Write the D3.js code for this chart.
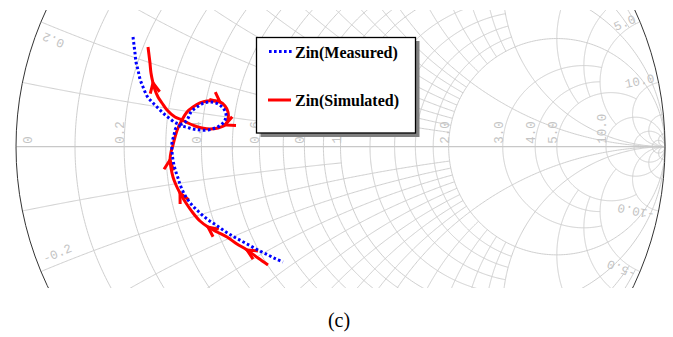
<!DOCTYPE html>
<html><head><meta charset="utf-8">
<script src="https://cdn.jsdelivr.net/npm/d3@7"></script>
<style>body{margin:0;background:#fff}svg{display:block}</style>
</head><body><svg id="c" width="673" height="337"></svg>
<script>
// ---- data: reflection coefficient (real, imag) of Zin ----
const measuredRe = [-0.6394,-0.6364,-0.6333,-0.6302,-0.6240,-0.6179,-0.6086,-0.5963,-0.5809,-0.5655,-0.5470,-0.5285,-0.5069,-0.4884,-0.4730,-0.4607,-0.4422,-0.4206,-0.3991,-0.3775,-0.3621,-0.3529,-0.3559,-0.3683,-0.3867,-0.4083,-0.4330,-0.4545,-0.4761,-0.4946,-0.5069,-0.5131,-0.5193,-0.5193,-0.5162,-0.5100,-0.5008,-0.4915,-0.4761,-0.4576,-0.4361,-0.4114,-0.3837,-0.3529,-0.3220,-0.2881,-0.2542,-0.2234,-0.1988,-0.1772];
const measuredIm = [0.3381,0.3134,0.2888,0.2610,0.2364,0.2086,0.1840,0.1562,0.1378,0.1223,0.1039,0.0884,0.0730,0.0700,0.0823,0.1069,0.1223,0.1347,0.1378,0.1316,0.1193,0.1008,0.0823,0.0669,0.0576,0.0515,0.0515,0.0545,0.0607,0.0638,0.0576,0.0361,0.0114,-0.0133,-0.0410,-0.0687,-0.0965,-0.1242,-0.1550,-0.1797,-0.2012,-0.2228,-0.2413,-0.2629,-0.2814,-0.2998,-0.3183,-0.3337,-0.3461,-0.3553];
const simulatedRe = [-0.2234,-0.2542,-0.2881,-0.3190,-0.3498,-0.3806,-0.4083,-0.4330,-0.4545,-0.4761,-0.4946,-0.5069,-0.5162,-0.5223,-0.5254,-0.5223,-0.5162,-0.5100,-0.5008,-0.4884,-0.4730,-0.4545,-0.4330,-0.4114,-0.3898,-0.3713,-0.3559,-0.3467,-0.3467,-0.3559,-0.3775,-0.4022,-0.4268,-0.4484,-0.4700,-0.4884,-0.5100,-0.5347,-0.5501,-0.5624,-0.5716,-0.5778,-0.5840,-0.5871,-0.5901,-0.5932];
const simulatedIm = [-0.3646,-0.3430,-0.3183,-0.2998,-0.2783,-0.2629,-0.2475,-0.2290,-0.2043,-0.1735,-0.1427,-0.1180,-0.0934,-0.0656,-0.0410,-0.0163,0.0052,0.0299,0.0576,0.0823,0.1069,0.1223,0.1347,0.1408,0.1408,0.1378,0.1254,0.1069,0.0854,0.0669,0.0576,0.0545,0.0576,0.0638,0.0730,0.0823,0.0915,0.1131,0.1347,0.1532,0.1747,0.1963,0.2271,0.2579,0.2826,0.3072];
const simulatedArrowAt = [2, 6, 10, 14, 25, 29, 41];
const seriesNames = ["Zin(Measured)", "Zin(Simulated)"];
const realAxisLabels = [0, 0.2, 0.4, 0.6, 0.8, 1.0, 2.0, 3.0, 4.0, 5.0, 10.0];
const rimLabels = [0.2, 5.0, 10.0, -10.0, -5.0, -0.2];
const caption = "(c)";

// ---- grid definition (value, limit of the other coordinate) ----
const rGrid = [[0.1,2],[0.2,5],[0.3,2],[0.4,2],[0.5,5],[0.6,2],[0.7,2],[0.8,2],[0.9,2],[1.0,1e9],
  [1.2,2],[1.4,2],[1.6,2],[1.8,2],[2.0,1e9],[3,5],[4,5],[5,10],[10,1e9],[20,1e9],[50,1e9]];
const xGrid = [[0.1,1],[0.2,2],[0.3,2],[0.4,2],[0.5,2],[0.6,2],[0.7,2],[0.8,2],[0.9,2],[1.0,1e9],
  [1.2,2],[1.4,2],[1.6,2],[1.8,2],[2.0,1e9],[3,5],[4,5],[5,10],[10,1e9],[20,1e9],[50,1e9]];

const W = 673, H = 337, cx = 340.5, cy = 146.7, R = 324.5;
const svg = d3.select("#c");
const gx = d3.scaleLinear().domain([-1, 1]).range([cx - R, cx + R]);
const gy = d3.scaleLinear().domain([-1, 1]).range([cy + R, cy - R]);

function gamma(r, x) {
  const d = (r + 1) * (r + 1) + x * x;
  return [(r * r - 1 + x * x) / d, 2 * x / d];
}
const line = d3.line().x(d => gx(d[0])).y(d => gy(d[1]));

svg.append("defs").append("clipPath").attr("id", "clip")
  .append("rect").attr("x", 0).attr("y", 10).attr("width", W).attr("height", 278);

const chart = svg.append("g").attr("clip-path", "url(#clip)");
const grid = chart.append("g").attr("fill", "none").attr("stroke", "#cfcfcf").attr("stroke-width", 1);

// resistance circles
rGrid.forEach(([r, xm]) => {
  const a = r + 1, pm = Math.atan(xm / a), pts = [];
  for (let i = 0; i <= 400; i++) {
    const p = -pm + 2 * pm * i / 400;
    pts.push(gamma(r, a * Math.tan(p)));
  }
  grid.append("path").attr("d", line(pts));
});
// reactance arcs
xGrid.forEach(([xv, rm]) => {
  [1, -1].forEach(s => {
    const x = s * xv, p0 = Math.atan(xv / (rm + 1)), p1 = Math.atan(xv), pts = [];
    for (let i = 0; i <= 300; i++) {
      const p = p0 + (p1 - p0) * i / 300;
      pts.push(gamma(xv / Math.tan(p) - 1, x));
    }
    grid.append("path").attr("d", line(pts));
  });
});
// real axis
chart.append("line").attr("x1", gx(-1)).attr("x2", gx(1)).attr("y1", gy(0)).attr("y2", gy(0))
  .attr("stroke", "#c8c8c8").attr("stroke-width", 1.2);
// outer circle
chart.append("circle").attr("cx", gx(0)).attr("cy", gy(0)).attr("r", gx(1) - gx(0))
  .attr("fill", "none").attr("stroke", "#333").attr("stroke-width", 1);

// labels
const lab = svg.append("g").attr("fill", "#c4c4c4").attr("font-family", "Liberation Mono, monospace").attr("font-size", 12.5);
realAxisLabels.forEach(r => {
  let px = gx((r - 1) / (r + 1));
  if (r === 0) px += 16;
  lab.append("text").attr("transform", `translate(${px},${gy(0) - 3}) rotate(-90)`)
    .attr("text-anchor", "start").text(r === 0 ? "0" : r.toFixed(1));
});
rimLabels.forEach(x => {
  const g = gamma(0, x), phi = Math.atan2(g[1], g[0]);
  const deg = phi * 180 / Math.PI;
  const left = Math.abs(deg) > 90;
  const rr = left ? 0.978 : 0.99;
  const px = gx(g[0] * rr), py = gy(g[1] * rr);
  if (x > 0) {
    lab.append("text").attr("transform", `translate(${px},${py}) rotate(${-deg})`)
      .attr("text-anchor", "end").attr("dy", left ? -8 : -1).text(x.toFixed(1));
  } else {
    lab.append("text").attr("transform", `translate(${px},${py}) rotate(${180 - deg})`)
      .attr("text-anchor", "start").attr("dy", left ? -6.5 : -1).text(x.toFixed(1));
  }
});

// series
const meas = measuredRe.map((v, i) => [v, measuredIm[i]]);
const sim = simulatedRe.map((v, i) => [v, simulatedIm[i]]);
const curve = d3.line().x(d => gx(d[0])).y(d => gy(d[1])).curve(d3.curveCatmullRom);
svg.append("path").attr("d", curve(sim)).attr("fill", "none").attr("stroke", "#ff0000")
  .attr("stroke-width", 3).attr("stroke-linejoin", "round");
// arrowheads
simulatedArrowAt.forEach(i => {
  const p = sim[i], q = sim[i + 1];
  const x0 = gx(p[0]), y0 = gy(p[1]), x1 = gx(q[0]), y1 = gy(q[1]);
  const ang = Math.atan2(y1 - y0, x1 - x0);
  const L = 11, sp = 0.45;
  const b1 = [x0 - L * Math.cos(ang - sp), y0 - L * Math.sin(ang - sp)];
  const b2 = [x0 - L * Math.cos(ang + sp), y0 - L * Math.sin(ang + sp)];
  svg.append("path").attr("d", `M${b1}L${x0},${y0}L${b2}`).attr("fill", "none")
    .attr("stroke", "#ff0000").attr("stroke-width", 3).attr("stroke-linejoin", "miter");
});
svg.append("path").attr("d", curve(meas)).attr("fill", "none").attr("stroke", "#0000ff")
  .attr("stroke-width", 3).attr("stroke-dasharray", "2.6,2.4");

// legend
const lg = svg.append("g");
lg.append("rect").attr("x", 260.5).attr("y", 41).attr("width", 159).attr("height", 96).attr("fill", "#808080");
lg.append("rect").attr("x", 256.5).attr("y", 37.5).attr("width", 159).attr("height", 95.5)
  .attr("fill", "#fff").attr("stroke", "#000").attr("stroke-width", 1.3);
lg.append("line").attr("x1", 269).attr("x2", 292).attr("y1", 51.5).attr("y2", 51.5)
  .attr("stroke", "#0000ff").attr("stroke-width", 3).attr("stroke-dasharray", "2.6,2.4");
lg.append("line").attr("x1", 268).attr("x2", 291).attr("y1", 100).attr("y2", 100)
  .attr("stroke", "#ff0000").attr("stroke-width", 3);
lg.selectAll("text.lt").data(seriesNames).join("text").attr("class", "lt")
  .attr("x", 295).attr("y", (d, i) => i ? 106 : 57.5)
  .attr("font-family", "Liberation Serif, Times New Roman, serif").attr("font-weight", "bold")
  .attr("font-size", 16).attr("fill", "#000").text(d => d);

svg.append("text").attr("x", 339).attr("y", 327).attr("text-anchor", "middle")
  .attr("font-family", "Liberation Serif, Times New Roman, serif").attr("font-size", 20).text(caption);
</script></body></html>
